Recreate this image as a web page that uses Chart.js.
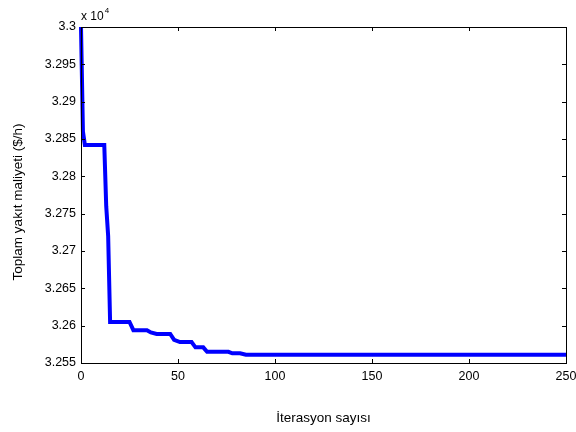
<!DOCTYPE html>
<html>
<head>
<meta charset="utf-8">
<script src="https://cdn.jsdelivr.net/npm/chart.js@4.4.1/dist/chart.umd.min.js"></script>
<style>
  html, body { margin: 0; padding: 0; background: #fff; }
  #wrap { width: 576px; height: 432px; }
</style>
</head>
<body>
<div id="wrap"><canvas id="grafik"></canvas></div>
<script>
// iterasyon kirilma noktalari ve maliyet degerleri ($/h)
const iterasyon = [0, 1, 2, 12, 13, 14, 15, 25, 27, 34, 36, 39, 46, 48, 51, 57, 59, 63, 65, 76, 78, 82, 85, 88, 250];
const maliyet = [33000, 32860, 32842, 32842, 32760, 32720, 32605, 32605, 32594, 32594, 32591, 32589, 32589, 32581, 32578, 32578, 32571, 32571, 32565, 32565, 32563, 32563, 32561, 32561, 32561];
const xTikler = [0, 50, 100, 150, 200, 250];
const yTikler = [32550, 32600, 32650, 32700, 32750, 32800, 32850, 32900, 32950, 33000];

const yaziTipi = "'Liberation Sans', Arial, sans-serif";
Chart.defaults.font.family = yaziTipi;
Chart.defaults.color = '#000';

// kutu, iceri bakan tikler ve basliklar
const MatlabEksen = {
  afterDraw: (chart) => {
    const { ctx, chartArea: a, scales } = chart;
    ctx.save();
    ctx.strokeStyle = '#000';
    ctx.lineWidth = 1;
    ctx.strokeRect(Math.round(a.left) + 0.5, Math.round(a.top) + 0.5, Math.round(a.right - a.left), Math.round(a.bottom - a.top));
    ctx.beginPath();
    xTikler.forEach(v => {
      const px = Math.round(scales.x.getPixelForValue(v)) + 0.5;
      ctx.moveTo(px, a.bottom); ctx.lineTo(px, a.bottom - 4);
      ctx.moveTo(px, a.top); ctx.lineTo(px, a.top + 4);
    });
    yTikler.forEach(v => {
      const py = Math.round(scales.y.getPixelForValue(v)) + 0.5;
      ctx.moveTo(a.left, py); ctx.lineTo(a.left + 4, py);
      ctx.moveTo(a.right, py); ctx.lineTo(a.right - 4, py);
    });
    ctx.stroke();

    ctx.fillStyle = '#000';
    // x 10^4
    ctx.font = '12px ' + yaziTipi;
    ctx.textAlign = 'left';
    ctx.textBaseline = 'alphabetic';
    ctx.fillText('x 10', a.left, a.top - 7);
    const w = ctx.measureText('x 10').width;
    ctx.font = '8px ' + yaziTipi;
    ctx.fillText('4', a.left + w + 1, a.top - 14);

    // eksen basliklari
    ctx.font = '13.5px ' + yaziTipi;
    ctx.textAlign = 'center';
    ctx.textBaseline = 'middle';
    ctx.fillText('İterasyon sayısı', (a.left + a.right) / 2, 418);
    ctx.translate(18, 202);
    ctx.rotate(-Math.PI / 2);
    ctx.fillText('Toplam yakıt maliyeti ($/h)', 0, 0);
    ctx.restore();
  }
};

const ctx = document.getElementById('grafik').getContext('2d');
new Chart(ctx, {
  type: 'line',
  data: {
    datasets: [{
      data: iterasyon.map((x, i) => ({ x: x, y: maliyet[i] })),
      borderColor: '#0000ff',
      borderWidth: 4,
      pointRadius: 0,
      fill: false,
      tension: 0,
      clip: 3
    }]
  },
  options: {
    responsive: true,
    maintainAspectRatio: false,
    animation: false,
    events: [],
    layout: { padding: { left: 0, top: 27, right: 10, bottom: 0 } },
    plugins: { legend: { display: false }, tooltip: { enabled: false } },
    scales: {
      x: {
        type: 'linear',
        min: 0, max: 250,
        afterFit: (s) => { s.height = 69; s.paddingLeft = 0; s.paddingRight = 0; },
        afterBuildTicks: (s) => { s.ticks = xTikler.map(v => ({ value: v })); },
        grid: { display: true, drawOnChartArea: false, drawTicks: false, color: 'rgba(0,0,0,0)' },
        border: { display: false },
        ticks: { padding: 6, maxRotation: 0, autoSkip: false, font: { size: 12.5 } }
      },
      y: {
        type: 'linear',
        min: 32550, max: 33000,
        afterFit: (s) => { s.width = 81; s.paddingTop = 0; s.paddingBottom = 0; },
        afterBuildTicks: (s) => { s.ticks = yTikler.map(v => ({ value: v })); },
        grid: { display: true, drawOnChartArea: false, drawTicks: false, color: 'rgba(0,0,0,0)' },
        border: { display: false },
        ticks: {
          padding: 5, autoSkip: false, font: { size: 12.5 },
          callback: (v) => parseFloat((v / 10000).toFixed(4)).toString()
        }
      }
    }
  },
  plugins: [MatlabEksen]
});
</script>
</body>
</html>
